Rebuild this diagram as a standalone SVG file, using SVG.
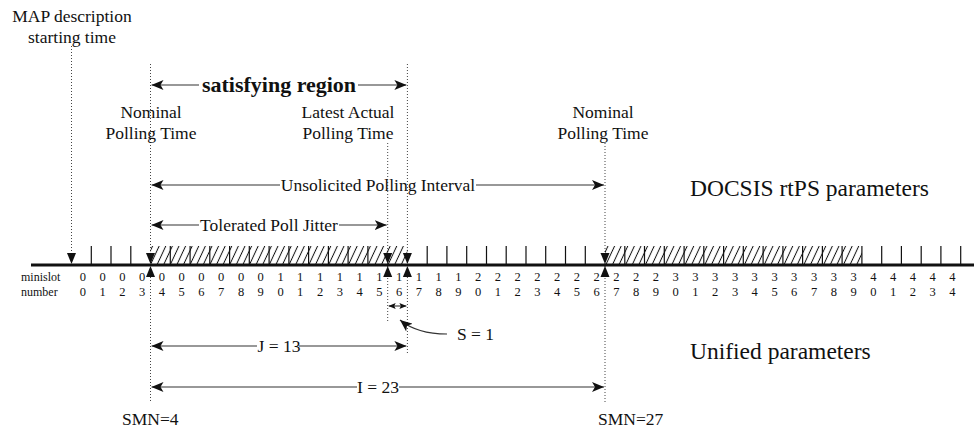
<svg xmlns="http://www.w3.org/2000/svg" width="974" height="433" viewBox="0 0 974 433">
<style>
text{font-family:"Liberation Serif","Times New Roman",serif;fill:#111}
.lbl{font-size:17.5px}
.big{font-size:23.5px}
.bold{font-size:22px;font-weight:bold}
.dig{font-size:12.5px;text-anchor:middle}
.sm{font-size:12px}
.mid{text-anchor:middle}
.dot{stroke:#444;stroke-width:1;stroke-dasharray:1 2;fill:none}
.dim{stroke:#333;stroke-width:1.1;fill:none}
.tick{stroke:#111;stroke-width:1.2}
.tri{fill:#111}
</style>
<defs>
<marker id="ah" viewBox="0 0 12 10" refX="12" refY="5" markerWidth="12" markerHeight="10" markerUnits="userSpaceOnUse" orient="auto-start-reverse">
<path d="M0,0 L12,5 L0,10 L3,5 Z" fill="#111"/>
</marker>
<marker id="ahs" viewBox="0 0 7 6" refX="7" refY="3" markerWidth="7" markerHeight="6" markerUnits="userSpaceOnUse" orient="auto-start-reverse">
<path d="M0,0 L7,3 L0,6 L1.5,3 Z" fill="#111"/>
</marker>
<pattern id="hatch" patternUnits="userSpaceOnUse" width="6.6" height="20" patternTransform="skewX(-25)">
<line x1="3.3" y1="-1" x2="3.3" y2="21" stroke="#111" stroke-width="1.1"/>
</pattern>
</defs>

<g id="guides">
<line class="dot" x1="71.5" y1="46" x2="71.5" y2="256"/>
<line class="dot" x1="150.5" y1="64" x2="150.5" y2="402"/>
<line class="dot" x1="387.7" y1="143" x2="387.7" y2="323"/>
<line class="dot" x1="407.4" y1="64" x2="407.4" y2="353"/>
<line class="dot" x1="605" y1="143" x2="605" y2="402"/>
</g>

<g id="timeline">
<rect x="150.5" y="246" width="256.9" height="19" fill="url(#hatch)"/>
<rect x="605" y="246" width="256.9" height="19" fill="url(#hatch)"/>
<line x1="31" y1="265" x2="974" y2="265" stroke="#111" stroke-width="3"/>
<g class="tick">
<line x1="91.3" y1="246" x2="91.3" y2="265"/>
<line x1="111" y1="246" x2="111" y2="265"/>
<line x1="130.8" y1="246" x2="130.8" y2="265"/>
<line x1="170.3" y1="246" x2="170.3" y2="265"/>
<line x1="190.1" y1="246" x2="190.1" y2="265"/>
<line x1="209.8" y1="246" x2="209.8" y2="265"/>
<line x1="229.6" y1="246" x2="229.6" y2="265"/>
<line x1="249.3" y1="246" x2="249.3" y2="265"/>
<line x1="269.1" y1="246" x2="269.1" y2="265"/>
<line x1="288.9" y1="246" x2="288.9" y2="265"/>
<line x1="308.6" y1="246" x2="308.6" y2="265"/>
<line x1="328.4" y1="246" x2="328.4" y2="265"/>
<line x1="348.1" y1="246" x2="348.1" y2="265"/>
<line x1="367.9" y1="246" x2="367.9" y2="265"/>
<line x1="427.2" y1="246" x2="427.2" y2="265"/>
<line x1="446.9" y1="246" x2="446.9" y2="265"/>
<line x1="466.7" y1="246" x2="466.7" y2="265"/>
<line x1="486.5" y1="246" x2="486.5" y2="265"/>
<line x1="506.2" y1="246" x2="506.2" y2="265"/>
<line x1="526" y1="246" x2="526" y2="265"/>
<line x1="545.7" y1="246" x2="545.7" y2="265"/>
<line x1="565.5" y1="246" x2="565.5" y2="265"/>
<line x1="585.3" y1="246" x2="585.3" y2="265"/>
<line x1="624.8" y1="246" x2="624.8" y2="265"/>
<line x1="644.5" y1="246" x2="644.5" y2="265"/>
<line x1="664.3" y1="246" x2="664.3" y2="265"/>
<line x1="684.1" y1="246" x2="684.1" y2="265"/>
<line x1="703.8" y1="246" x2="703.8" y2="265"/>
<line x1="723.6" y1="246" x2="723.6" y2="265"/>
<line x1="743.3" y1="246" x2="743.3" y2="265"/>
<line x1="763.1" y1="246" x2="763.1" y2="265"/>
<line x1="782.9" y1="246" x2="782.9" y2="265"/>
<line x1="802.6" y1="246" x2="802.6" y2="265"/>
<line x1="822.4" y1="246" x2="822.4" y2="265"/>
<line x1="842.1" y1="246" x2="842.1" y2="265"/>
<line x1="861.9" y1="246" x2="861.9" y2="265"/>
<line x1="881.7" y1="246" x2="881.7" y2="265"/>
<line x1="901.4" y1="246" x2="901.4" y2="265"/>
<line x1="921.2" y1="246" x2="921.2" y2="265"/>
<line x1="940.9" y1="246" x2="940.9" y2="265"/>
<line x1="960.7" y1="246" x2="960.7" y2="265"/>
</g>
<g class="tri">
<path d="M67,253 L76,253 L71.5,264 Z"/>
<path d="M146,253 L155,253 L150.5,264 Z"/>
<path d="M146,277 L155,277 L150.5,266 Z"/>
<path d="M383.2,253 L392.2,253 L387.7,264 Z"/>
<path d="M383.2,277 L392.2,277 L387.7,266 Z"/>
<path d="M402.9,253 L411.9,253 L407.4,264 Z"/>
<path d="M402.9,277 L411.9,277 L407.4,266 Z"/>
<path d="M600.5,253 L609.5,253 L605,264 Z"/>
<path d="M600.5,277 L609.5,277 L605,266 Z"/>
</g>
</g>

<g id="minislot-numbers">
<text class="sm" x="21" y="280.5">minislot</text>
<text class="sm" x="21" y="296">number</text>
<text class="dig" y="280.5" x="82.9 102.6 122.4 142.2 161.9 181.7 201.4 221.2 241 260.7 280.5 300.2 320 339.8 359.5 379.3 399 418.8 438.6 458.3 478.1 497.8 517.6 537.4 557.1 576.9 596.6 616.4 636.2 655.9 675.7 695.4 715.2 735 754.7 774.5 794.2 814 833.8 853.5 873.3 893 912.8 932.6 952.3">000000000011111111112222222222333333333344444</text>
<text class="dig" y="296" x="82.9 102.6 122.4 142.2 161.9 181.7 201.4 221.2 241 260.7 280.5 300.2 320 339.8 359.5 379.3 399 418.8 438.6 458.3 478.1 497.8 517.6 537.4 557.1 576.9 596.6 616.4 636.2 655.9 675.7 695.4 715.2 735 754.7 774.5 794.2 814 833.8 853.5 873.3 893 912.8 932.6 952.3">012345678901234567890123456789012345678901234</text>
</g>

<g id="label-map">
<text class="lbl mid" x="72" y="21.5">MAP description</text>
<text class="lbl mid" x="72" y="42.5">starting time</text>
</g>
<g id="label-nominal-1">
<text class="lbl mid" x="151" y="118">Nominal</text>
<text class="lbl mid" x="151" y="139">Polling Time</text>
</g>
<g id="label-latest">
<text class="lbl mid" x="348" y="118">Latest Actual</text>
<text class="lbl mid" x="348" y="139">Polling Time</text>
</g>
<g id="label-nominal-2">
<text class="lbl mid" x="603" y="118">Nominal</text>
<text class="lbl mid" x="603" y="139">Polling Time</text>
</g>
<g id="label-docsis">
<text class="big" x="690" y="196">DOCSIS rtPS parameters</text>
</g>
<g id="label-unified">
<text class="big" x="690" y="359">Unified parameters</text>
</g>
<g id="label-smn">
<text class="lbl" x="122" y="425">SMN=4</text>
<text class="lbl" x="598" y="425">SMN=27</text>
</g>

<g id="connectors">
<line class="dim" x1="199" y1="85" x2="151.5" y2="85" marker-end="url(#ah)"/>
<line class="dim" x1="358" y1="85" x2="406.4" y2="85" marker-end="url(#ah)"/>
<text class="bold mid" x="279" y="92">satisfying region</text>

<line class="dim" x1="280" y1="185" x2="151.5" y2="185" marker-end="url(#ah)"/>
<line class="dim" x1="476" y1="185" x2="604" y2="185" marker-end="url(#ah)"/>
<text class="lbl mid" x="378" y="191">Unsolicited Polling Interval</text>

<line class="dim" x1="199" y1="225" x2="151.5" y2="225" marker-end="url(#ah)"/>
<line class="dim" x1="339" y1="225" x2="386.7" y2="225" marker-end="url(#ah)"/>
<text class="lbl mid" x="269" y="231">Tolerated Poll Jitter</text>

<line class="dim" x1="388.7" y1="306" x2="406.4" y2="306" marker-start="url(#ahs)" marker-end="url(#ahs)"/>
<path class="dim" d="M447,334 C428,334 411,329 400,320" marker-end="url(#ah)"/>
<text class="lbl" x="457" y="340">S = 1</text>

<line class="dim" x1="257" y1="346" x2="151.5" y2="346" marker-end="url(#ah)"/>
<line class="dim" x1="299" y1="346" x2="406.4" y2="346" marker-end="url(#ah)"/>
<text class="lbl mid" x="279" y="352">J = 13</text>

<line class="dim" x1="357" y1="387" x2="151.5" y2="387" marker-end="url(#ah)"/>
<line class="dim" x1="399" y1="387" x2="604" y2="387" marker-end="url(#ah)"/>
<text class="lbl mid" x="378" y="393">I = 23</text>
</g>
</svg>
